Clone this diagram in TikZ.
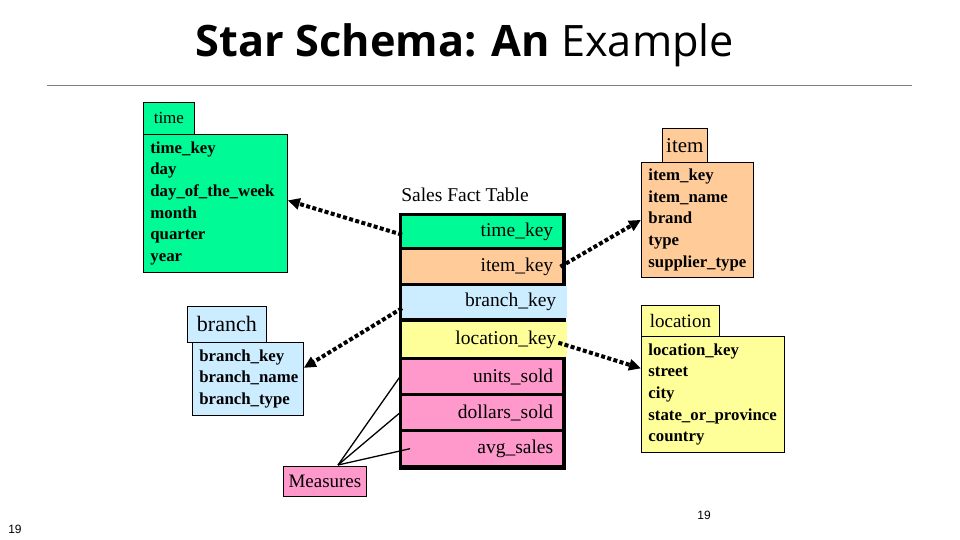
\documentclass[tikz,border=0pt]{standalone}
\usepackage{graphicx}
\usepackage{fontspec}
\setmainfont{Liberation Serif}
\newfontfamily\titlefont{Open Sans}
\newfontfamily\numfont{Liberation Sans}
\usetikzlibrary{arrows.meta}
\definecolor{tgreen}{RGB}{0,250,150}
\definecolor{tpeach}{RGB}{255,204,153}
\definecolor{tblue}{RGB}{204,236,255}
\definecolor{tyellow}{RGB}{255,255,153}
\definecolor{tpink}{RGB}{255,153,204}
\tikzset{
  tab/.style={draw=black, line width=0.8pt, anchor=north west, inner sep=0pt},
  attrbox/.style={draw=black, line width=0.8pt, anchor=north west, inner xsep=7pt, inner ysep=0pt,
    align=left, font=\bfseries\fontsize{16.8}{21.7}\selectfont},
  factrow/.style={anchor=north west, inner ysep=0pt, align=right, font=\fontsize{19.5}{22}\selectfont},
  dotarrow/.style={line width=4pt, dash pattern=on 4pt off 2.4pt, -{Triangle[length=12pt,width=11pt]}},
  measline/.style={line width=1.3pt, black},
}
\begin{document}
\begin{tikzpicture}[x=1pt,y=-1pt]
\useasboundingbox (0,0) rectangle (960,540);
% title
\node (title) at (465,45) {\resizebox{538pt}{!}{\titlefont\bfseries Star Schema: An \mdseries Example}};
\draw[black!50, line width=1pt] (47,86) -- (912,86);

% time
\node[tab, fill=tgreen, minimum width=51pt, minimum height=32pt, font=\fontsize{17}{20}\selectfont] (timetab) at (143,102) {time};
\node[attrbox, fill=tgreen, minimum width=144pt, minimum height=138pt, text width=130pt] (timebody) at (143,134)
  {time\_key\\day\\day\_of\_the\_week\\month\\quarter\\year};

% item
\node[tab, fill=tpeach, minimum width=45pt, minimum height=34pt, font=\fontsize{21}{24}\selectfont] (itemtab) at (662,128) {item};
\node[attrbox, fill=tpeach, minimum width=112pt, minimum height=115pt, text width=98pt] (itembody) at (641,162)
  {item\_key\\item\_name\\brand\\type\\supplier\_type};

% location
\node[tab, fill=tyellow, minimum width=78pt, minimum height=31pt, font=\fontsize{19}{22}\selectfont] (loctab) at (641,305) {location};
\node[attrbox, fill=tyellow, minimum width=143pt, minimum height=116pt, text width=129pt] (locbody) at (641,336)
  {location\_key\\street\\city\\state\_or\_province\\country};

% branch
\node[tab, fill=tblue, minimum width=79pt, minimum height=36pt, font=\fontsize{22}{25}\selectfont] (branchtab) at (187,306) {branch};
\node[attrbox, fill=tblue, minimum width=111pt, minimum height=73pt, text width=97pt] (branchbody) at (192,342)
  {branch\_key\\branch\_name\\branch\_type};

% fact table
\node[font=\fontsize{19.5}{22}\selectfont] (facttitle) at (465,195) {Sales Fact Table};
\node[draw=black, fill=black, line width=1.5pt, anchor=north west, minimum width=165pt, minimum height=255pt, inner sep=0pt] (frame) at (399,213) {};
\node[factrow, fill=tgreen, minimum width=160pt, minimum height=31pt, inner xsep=9pt, text width=142pt] (tk) at (402,216) {time\_key};
\node[factrow, fill=tpeach, minimum width=160pt, minimum height=33pt, inner xsep=9pt, text width=142pt] (ik) at (402,250) {item\_key};
\node[factrow, fill=tblue, minimum width=165pt, minimum height=32pt, inner xsep=11pt, text width=143pt] (bk) at (402,286) {branch\_key};
\node[factrow, fill=tyellow, minimum width=165pt, minimum height=35pt, inner xsep=11pt, text width=143pt] (lk) at (402,322) {location\_key};
\node[factrow, fill=tpink, minimum width=160pt, minimum height=33pt, inner xsep=9pt, text width=142pt] (us) at (402,360) {units\_sold};
\node[factrow, fill=tpink, minimum width=160pt, minimum height=33pt, inner xsep=9pt, text width=142pt] (ds) at (402,396) {dollars\_sold};
\node[factrow, fill=tpink, minimum width=160pt, minimum height=33pt, inner xsep=9pt, text width=142pt] (as) at (402,432) {avg\_sales};

% measures
\node[tab, fill=tpink, minimum width=83pt, minimum height=30pt, font=\fontsize{19}{22}\selectfont] (meas) at (283,466) {Measures};
\coordinate (mapex) at (338,465);
\draw[measline] (mapex) -- ([xshift=-2pt]us.west);
\draw[measline] (mapex) -- ([xshift=-2pt]ds.west);
\draw[measline] (mapex) -- ([xshift=8pt]as.west);

% dotted arrows
\draw[dotarrow] ([yshift=-3pt]tk.west) -- ([yshift=3pt]timebody.east);
\draw[dotarrow] ([xshift=-2pt]ik.east) -- (itembody.west);
\draw[dotarrow] ([yshift=-6pt]bk.west) -- ([yshift=11pt]branchbody.east);
\draw[dotarrow] ([xshift=-9pt,yshift=-3pt]lk.east) -- ([yshift=26pt]locbody.west);

% page numbers
\node[font=\numfont\fontsize{12}{14}\selectfont] (pgleft) at (15,529) {19};
\node[font=\numfont\fontsize{12}{14}\selectfont] (pgright) at (704,515) {19};
\end{tikzpicture}
\end{document}
